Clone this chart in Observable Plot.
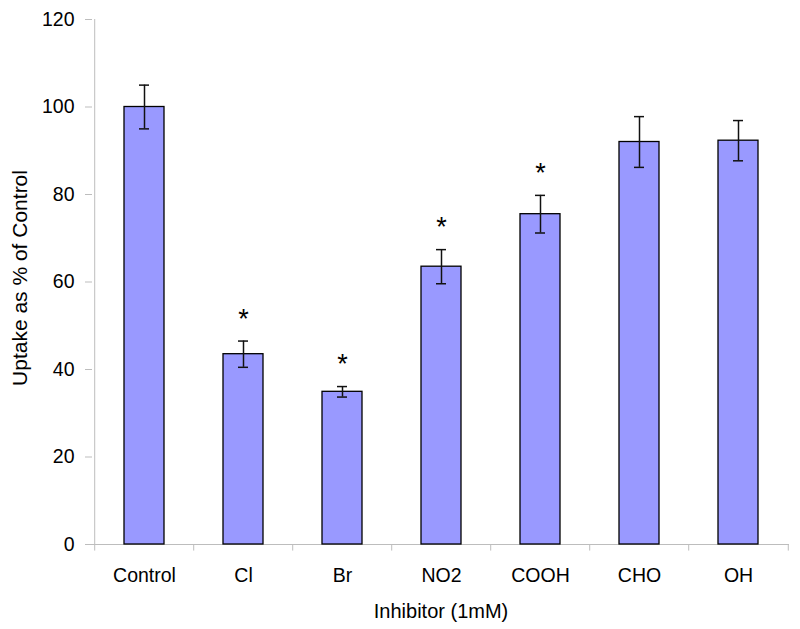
<!DOCTYPE html>
<html>
<head>
<meta charset="utf-8">
<script src="https://cdn.jsdelivr.net/npm/d3@7"></script>
<script src="https://cdn.jsdelivr.net/npm/@observablehq/plot@0.6"></script>
<style>
  html, body { margin: 0; padding: 0; background: #fff; }
  #chart svg { display: block; }
</style>
</head>
<body>
<div id="chart"></div>
<script>
const inhibitors = ["Control", "Cl", "Br", "NO2", "COOH", "CHO", "OH"];
const uptake = [100.0, 43.5, 34.9, 63.5, 75.5, 92.0, 92.3];
const errors = [5.0, 3.0, 1.2, 3.9, 4.3, 5.8, 4.6];
const significant = [false, true, true, true, true, false, false];
const yTicks = [0, 20, 40, 60, 80, 100, 120];
const xTitle = "Inhibitor (1mM)";
const yTitle = "Uptake as % of Control";

const rows = inhibitors.map((name, i) => ({
  name, value: uptake[i], lo: uptake[i] - errors[i], hi: uptake[i] + errors[i], sig: significant[i]
}));

const W = 800, H = 629;
const mL = 92, mR = 11, mT = 19, mB = 85;
const step = (W - mL - mR) / inhibitors.length;
const font = "'Liberation Sans', Arial, sans-serif";
const axisGray = "#bdbdbd";

const chart = Plot.plot({
  width: W, height: H,
  marginLeft: mL, marginRight: mR, marginTop: mT, marginBottom: mB,
  style: { fontFamily: font, background: "#fff", color: "#000" },
  x: { type: "band", domain: inhibitors, paddingInner: 0.6, paddingOuter: 0.3, axis: null },
  y: { domain: [0, 120], axis: null },
  marks: [
    // x axis line and y axis line
    Plot.ruleY([0], { stroke: axisGray, strokeWidth: 1 }),
    Plot.ruleX([inhibitors[0]], { x: d => d, dx: -step / 2, y1: 0, y2: 120, stroke: axisGray, strokeWidth: 1 }),
    // y axis ticks and labels
    Plot.axisY({ ticks: yTicks, tickSize: 7, tickPadding: 11, stroke: axisGray, fontSize: 19.5, tickFormat: d => String(d), label: null, color: "#000" }),
    // x boundary ticks
    Plot.ruleX(inhibitors, { x: d => d, dx: -step / 2, y1: 0, y2: -1.5, stroke: axisGray }),
    Plot.ruleX([inhibitors[inhibitors.length - 1]], { x: d => d, dx: step / 2, y1: 0, y2: -1.5, stroke: axisGray }),
    // x labels
    Plot.axisX({ tickSize: 0, tickPadding: 24, fontSize: 19.5, label: null }),
    // bars
    Plot.barY(rows, { x: "name", y: "value", fill: "#9999ff", stroke: "#000", strokeWidth: 1.3 }),
    // error bars
    Plot.ruleX(rows, { x: "name", y1: "lo", y2: "hi", stroke: "#111", strokeWidth: 1.5 }),
    Plot.tickY(rows, { x: "name", y: "hi", stroke: "#111", strokeWidth: 1.5, insetLeft: 15, insetRight: 15 }),
    Plot.tickY(rows, { x: "name", y: "lo", stroke: "#111", strokeWidth: 1.5, insetLeft: 15, insetRight: 15 }),
    // asterisks
    Plot.text(rows.filter(d => d.sig), { x: "name", y: "hi", text: () => "*", dy: -22, fontSize: 27, fill: "#000" }),
    // axis titles
    Plot.text([xTitle], { frameAnchor: "bottom", text: d => d, dy: 59.5, lineAnchor: "top", fontSize: 20, fill: "#000" }),
    Plot.text([yTitle], { frameAnchor: "left", text: d => d, dx: -66, dy: -4, rotate: -90, textAnchor: "middle", lineAnchor: "bottom", fontSize: 21, fill: "#000" })
  ]
});
document.getElementById("chart").appendChild(chart);
</script>
</body>
</html>
